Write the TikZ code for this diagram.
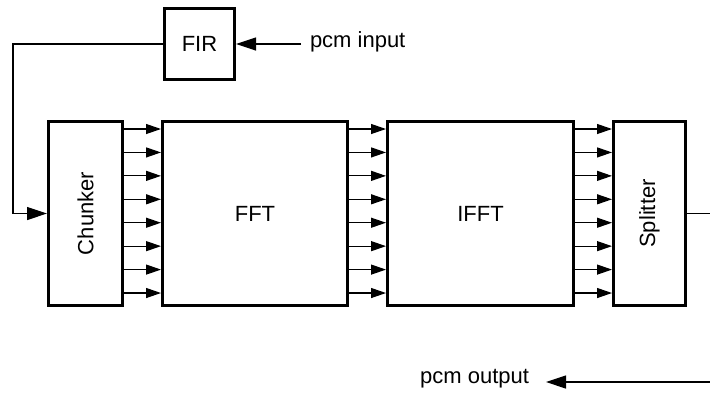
\documentclass[tikz,border=0pt]{standalone}
\usepackage{fontspec}
\setmainfont{Liberation Sans}
\usetikzlibrary{arrows.meta,positioning}
\tikzset{
  box/.style={draw=black, line width=1.5pt, fill=white, align=center, inner sep=2pt,
              font=\fontsize{11}{13}\selectfont},
  bus/.style={-{Triangle[length=7.5pt,width=5pt]}, line width=0.6pt, black},
  flow/.style={-{Triangle[length=10pt,width=6.5pt]}, line width=0.6pt, black},
  tag/.style={font=\fontsize{11}{13}\selectfont, inner sep=4.5pt, outer sep=0pt},
}

\begin{document}
\begin{tikzpicture}[x=0.5pt, y=-0.5pt, node distance=4mm and 18.5pt]
    \useasboundingbox[fill=white] (0,0) rectangle (710,392);

    \node[box, minimum width=35pt, minimum height=35.5pt] (fir) at (199.5,44) {FIR};
    \node[tag, anchor=west] (pcmin) at (301,42) {pcm input};

    \node[box, minimum width=37pt, minimum height=92pt] (chunk) at (85.5,213.5) {\rotatebox{90}{Chunker}};
    \node[box, right=of chunk, minimum width=92.5pt, minimum height=92pt] (fft) {FFT};
    \node[box, right=of fft, minimum width=93pt, minimum height=92pt] (ifft) {IFFT};
    \node[box, right=of ifft, minimum width=36pt, minimum height=92pt] (split) {\rotatebox{90}{Splitter}};

    \node[tag, anchor=east, inner xsep=8.5pt] (pcmout) at (546,379) {pcm output};

    \coordinate (lft) at (13,44);
    \coordinate (rgt) at (725,382);

    % input side
    \draw[flow] (pcmin.west |- fir.east) -- (fir.east);
    \draw[flow] (fir.west) -| (lft |- chunk.west) -- (chunk.west);

    % eight lines between the blocks
    \foreach \k in {0,...,7} {
      \coordinate (row\k) at (0,{129+23.43*\k});
      \draw[bus] (chunk.east |- row\k) -- (fft.west |- row\k);
      \draw[bus] (fft.east |- row\k) -- (ifft.west |- row\k);
      \draw[bus] (ifft.east |- row\k) -- (split.west |- row\k);
    }

    % output side
    \draw[flow] (split.east) -| (rgt) -- (rgt -| pcmout.east);
  \end{tikzpicture}
\end{document}
